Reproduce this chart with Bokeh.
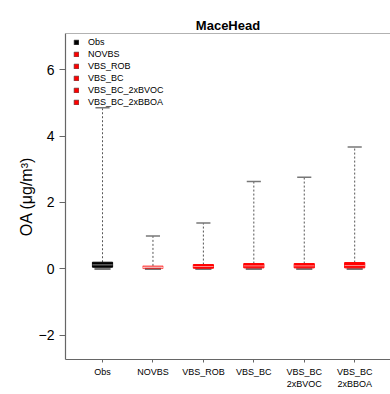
from bokeh.plotting import figure
from bokeh.models import ColumnDataSource, FixedTicker, Range1d, Span, Legend, LegendItem
from bokeh.embed import file_html
from bokeh.resources import INLINE

# ---- data ----
categories = ["Obs", "NOVBS", "VBS_ROB", "VBS_BC", "VBS_BC_2xBVOC", "VBS_BC_2xBBOA"]
tick_labels = ["Obs", "NOVBS", "VBS_ROB", "VBS_BC", "VBS_BC\n2xBVOC", "VBS_BC\n2xBBOA"]
mins = [0.00, 0.00, 0.00, 0.00, 0.00, 0.00]
q1s = [0.05, 0.01, 0.02, 0.03, 0.03, 0.03]
medians = [0.12, 0.04, 0.07, 0.09, 0.09, 0.10]
q3s = [0.20, 0.09, 0.13, 0.16, 0.16, 0.19]
maxs = [4.85, 0.99, 1.38, 2.63, 2.76, 3.67]
box_colors = ["#000000", "#ff0000", "#ff0000", "#ff0000", "#ff0000", "#ff0000"]
box_alphas = [1.0, 0.5, 1.0, 1.0, 1.0, 1.0]
legend_colors = ["#000000", "#ff0000", "#ff0000", "#ff0000", "#ff0000", "#ff0000"]
y_ticks = [-2, 0, 2, 4, 6]

xs = list(range(1, len(categories) + 1))
src = ColumnDataSource(dict(
    x=xs, lo=mins, q1=q1s, med=medians, q3=q3s, hi=maxs,
    color=box_colors, alpha=box_alphas,
    cap_l=[x - 0.14 for x in xs], cap_r=[x + 0.14 for x in xs],
    box_l=[x - 0.2 for x in xs], box_r=[x + 0.2 for x in xs],
    low_l=[x - 0.16 for x in xs], low_r=[x + 0.16 for x in xs],
))

FONT = "Liberation Sans"
p = figure(width=390, height=394, output_backend="svg", toolbar_location=None,
           x_range=Range1d(0.266, 6.71), y_range=Range1d(-2.73, 7.09),
           min_border_left=65, min_border_right=0, min_border_top=33, min_border_bottom=35,
           frame_width=325, frame_height=326, title="MaceHead")
p.outline_line_color = None
p.xgrid.visible = False
p.ygrid.visible = False
p.background_fill_color = "white"
p.border_fill_color = "white"

p.title.align = "center"
p.title.text_font = FONT
p.title.text_font_size = "13px"
p.title.text_font_style = "bold"
p.title.text_color = "black"
p.title.offset = 0
p.title.standoff = 2

# whiskers
p.segment(x0="x", y0="q3", x1="x", y1="hi", source=src, line_color="#555555",
          line_width=1, line_dash="2 2")
p.segment(x0="cap_l", y0="hi", x1="cap_r", y1="hi", source=src, line_color="#777777",
          line_width=1.5)
p.segment(x0="low_l", y0="lo", x1="low_r", y1="lo", source=src, line_color="#777777",
          line_width=2.5)
# boxes
p.quad(left="box_l", right="box_r", bottom="q1", top="q3", source=src,
       fill_color="color", fill_alpha="alpha", line_color="color", line_alpha="alpha",
       line_width=1)
p.segment(x0="box_l", y0="med", x1="box_r", y1="med", source=src, line_color="white",
          line_alpha=0.55, line_width=1)

# top frame line
p.add_layout(Span(location=7.09, dimension="width", line_color="#666666", line_width=1.2))

# axes
p.yaxis.ticker = FixedTicker(ticks=y_ticks)
p.yaxis.minor_tick_line_color = None
p.yaxis.major_tick_in = 0
p.yaxis.major_tick_out = 6
p.yaxis.major_label_text_font = FONT
p.yaxis.major_label_text_font_size = "14px"
p.yaxis.major_label_text_color = "black"
p.yaxis.major_label_standoff = 5
p.yaxis.axis_label = "OA (μg/m³)"
p.yaxis.axis_label_text_font = FONT
p.yaxis.axis_label_text_font_size = "16px"
p.yaxis.axis_label_text_font_style = "normal"
p.yaxis.axis_label_text_color = "black"
p.yaxis.axis_label_standoff = 1
p.yaxis.axis_line_color = "#666666"
p.yaxis.major_tick_line_color = "#666666"
p.yaxis.axis_line_width = 1.2

p.xaxis.ticker = FixedTicker(ticks=xs)
p.xaxis.major_label_overrides = {x: t for x, t in zip(xs, tick_labels)}
p.xaxis.minor_tick_line_color = None
p.xaxis.major_tick_in = 0
p.xaxis.major_tick_out = 3
p.xaxis.major_label_text_font = FONT
p.xaxis.major_label_text_font_size = "9px"
p.xaxis.major_label_text_color = "black"
p.xaxis.major_label_standoff = 4
p.xaxis.axis_line_color = "#666666"
p.xaxis.major_tick_line_color = "#666666"
p.xaxis.axis_line_width = 1.2

# legend with dummy square renderers (not visible in the data area)
items = []
for name, col in zip(categories, legend_colors):
    r = p.quad(left=[0], right=[0], bottom=[0], top=[0], fill_color=col,
               line_color="#444444", line_width=0.6)
    items.append(LegendItem(label=name, renderers=[r]))
legend = Legend(items=items, location=(8, 252), orientation="vertical")
legend.glyph_width = 6
legend.glyph_height = 6
legend.label_height = 10
legend.spacing = 2
legend.padding = 0
legend.margin = 0
legend.label_standoff = 9
legend.label_text_font = FONT
legend.label_text_font_size = "9px"
legend.label_text_color = "black"
legend.border_line_color = None
legend.background_fill_alpha = 0
p.add_layout(legend, "center")

open("out.html", "w").write(file_html(p, INLINE))
